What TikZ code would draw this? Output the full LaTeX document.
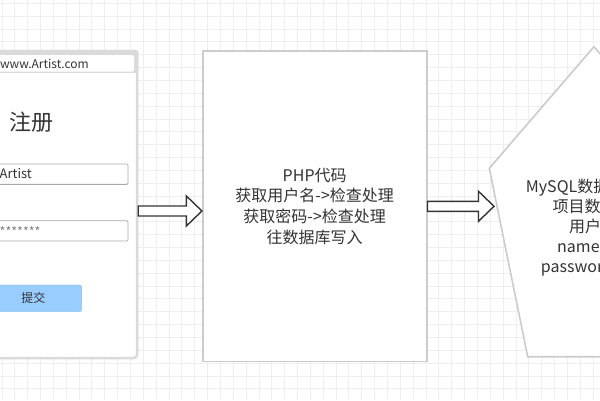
\documentclass[tikz,border=0pt]{standalone}
\usepackage{fontspec}
\newfontfamily\cjk{Noto Sans CJK SC}
\usetikzlibrary{calc}

\definecolor{gridgray}{HTML}{EEEEEE}
\definecolor{framegray}{HTML}{DADADA}
\definecolor{boxgray}{HTML}{CCCCCC}
\definecolor{fieldgray}{HTML}{A8A8A8}
\definecolor{inkgray}{HTML}{333333}
\definecolor{btnblue}{HTML}{99CCFF}

% hollow block arrow from #1 to #2 (kept at the height of #1)
\newcommand\blockarrow[2]{%
  \draw[blockarrow] let \p1=(#1), \p2=(#2) in
    (\x1,\y1+5pt) -- (\x2-15.5pt,\y1+5pt) -- (\x2-15.5pt,\y1+15pt) -- (\x2,\y1)
    -- (\x2-15.5pt,\y1-15pt) -- (\x2-15.5pt,\y1-5pt) -- (\x1,\y1-5pt) -- cycle;}

\begin{document}
\begin{tikzpicture}[
    x=1pt, y=-1pt,
    gridline/.style={draw=gridgray, line width=0.8pt},
    txt/.style={font={\cjk\fontsize{#1}{20.7}\selectfont}, text=inkgray, inner sep=0pt},
    field/.style={draw=fieldgray, fill=white, line width=0.8pt, rounded corners=1pt},
    plainbox/.style={draw=boxgray, fill=white, line width=1.6pt},
    blockarrow/.style={draw=inkgray, fill=white, line width=1.4pt, line join=miter}
]
\useasboundingbox (0,0) rectangle (600,400);
\clip (0,0) rectangle (600,400);

% -- background grid --
\fill[white] (0,0) rectangle (600,400);
\foreach \k in {0,...,46} {
    \draw[gridline] ({1.9+12.85*\k},0) -- ++(0,400);
}
\foreach \k in {0,...,30} {
    \draw[gridline] (0,{3.3+12.85*\k}) -- ++(600,0);
}

% -- registration page --
\node[draw=framegray, fill=white, line width=2.5pt, rounded corners=3pt,
      minimum width=196, minimum height=307, inner sep=0pt] (form) at (39,204.5) {};
\fill[framegray, rounded corners=3pt] (form.north west) rectangle ($(form.north east)+(0,23)$);
\fill[white, rounded corners=2pt] (-55,55) rectangle (134,71.7);
\node[txt=12, anchor=base east] (url) at (89,68) {http://www.Artist.com};
\node[txt=22, anchor=base west] (title) at (9,130) {注册};

\node[field, minimum width=190, minimum height=20.3, anchor=east] (user) at (128.3,174.2) {};
\node[txt=13, anchor=base west] (username) at (-0.5,178.5) {Artist};
\node[field, minimum width=190, minimum height=20.3, anchor=east] (pass) at (128.3,230.8) {};
\node[txt=12.5, text=gray, anchor=base west] (password) at (-0.5,236) {*******};

\node[txt=12, draw=btnblue!85!gray, fill=btnblue, rounded corners=2pt,
      minimum width=96.7, minimum height=26.7] (submit) at (33.3,298.3) {提交};

% -- php code --
\node[plainbox, txt=16, align=center, minimum width=224, minimum height=310.7]
    (php) at (314.7,206.3) {PHP代码\\获取用户名->检查处理\\获取密码->检查处理\\往数据库写入};

% -- database --
\draw[plainbox] (594,46.7) coordinate (dbtop) -- (698.7,168.3) -- (660.3,356.7)
    -- (527.7,356.7) -- (489.3,168.3) coordinate (dbleft) -- cycle;
\foreach \line/\xs/\ys [count=\i] in {MySQL数据库/525.7/186.7, 项目数据库/552.5/206.7,
        用户表/569/226.7, name/557/246.7, password/540.7/266} {
    \node[txt=16, anchor=base west] (db\i) at (\xs,\ys+6) {\line};
}

% -- arrows --
\coordinate (a1s) at ([yshift=-6.5pt]form.east);
\coordinate (a1e) at (php.west |- a1s);
\blockarrow{a1s}{a1e}
\coordinate (dbtip) at (494,206.3);
\blockarrow{php.east}{dbtip}

\end{tikzpicture}
\end{document}
